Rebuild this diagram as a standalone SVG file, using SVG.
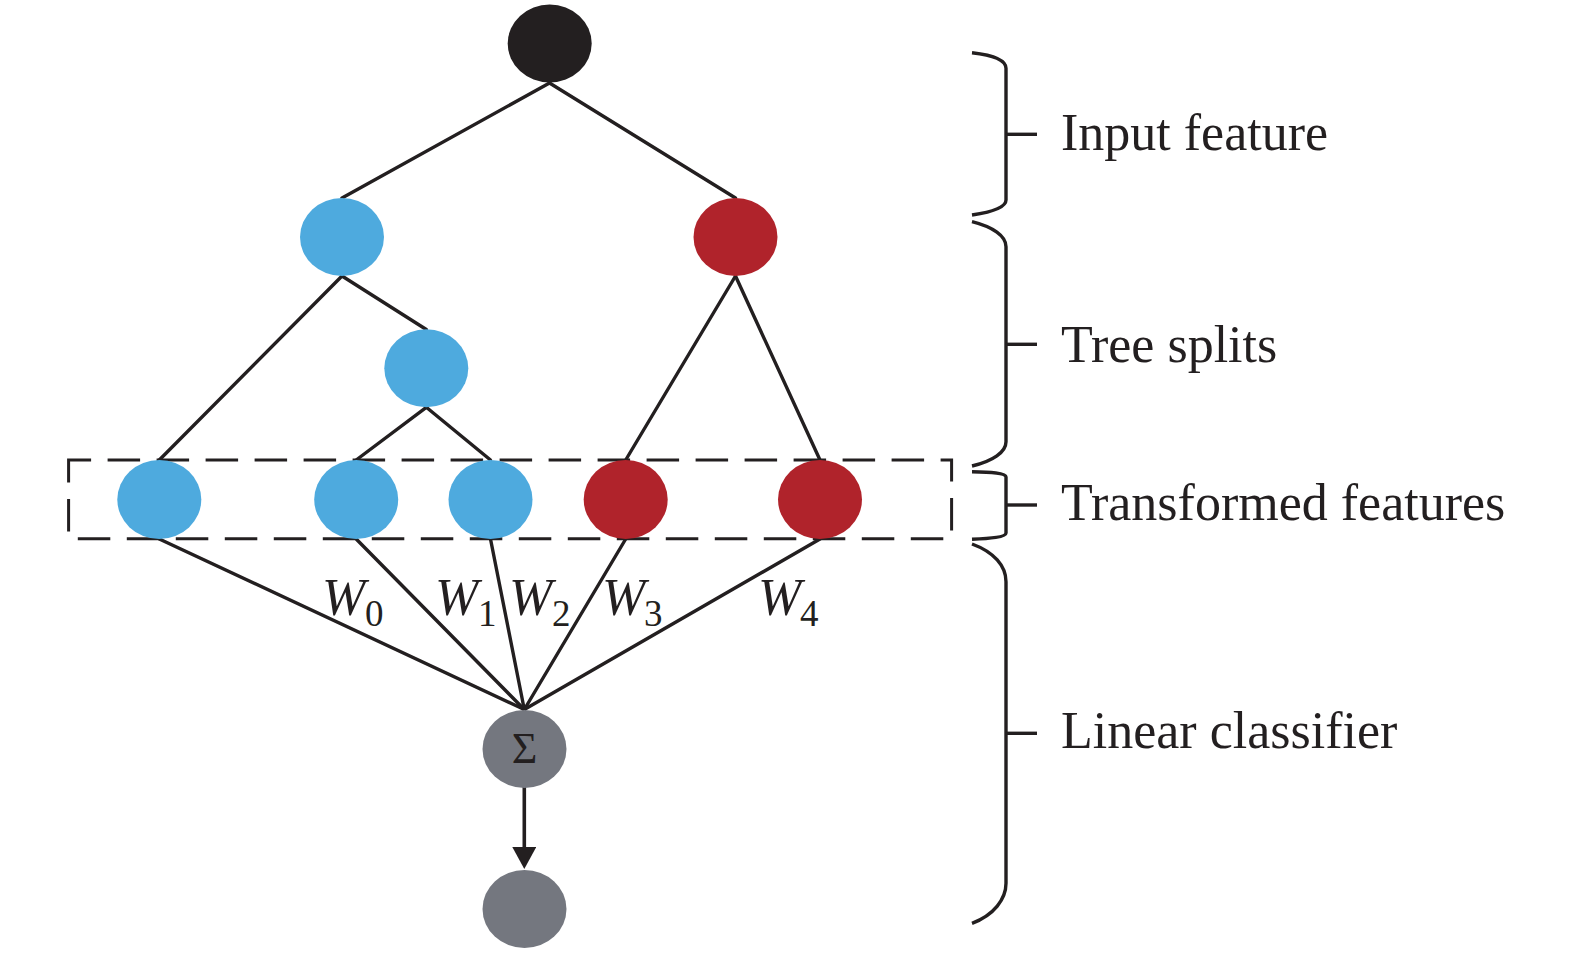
<svg xmlns="http://www.w3.org/2000/svg" width="1575" height="953" viewBox="0 0 1575 953">
<style>
.blue{fill:#4eaade}
.red{fill:#b0232b}
.black{fill:#231f20}
.gray{fill:#74777f}
.edge{stroke:#231f20;stroke-width:3.4;fill:none;stroke-linecap:round}
.brace{stroke:#231f20;stroke-width:3.4;fill:none}
.lbl{font-family:"Liberation Serif","Times New Roman",serif;font-size:52px;fill:#231f20}
.w{font-family:"Liberation Serif","Times New Roman",serif;font-size:52px;font-style:italic;fill:#231f20}
.sub{font-family:"Liberation Serif","Times New Roman",serif;font-size:37px;fill:#231f20}
</style>
<defs>
<marker id="arrow" markerUnits="userSpaceOnUse" markerWidth="24" markerHeight="24" refX="2" refY="12" orient="auto">
<path d="M0,0 L22,12 L0,24 Z" fill="#231f20"/>
</marker>
</defs>
<rect width="1575" height="953" fill="#ffffff"/>
<g id="connectors">
<line class="edge" x1="549.5" y1="83" x2="342" y2="198"/>
<line class="edge" x1="549.5" y1="83" x2="735.5" y2="198"/>
<line class="edge" x1="342" y1="276" x2="159.3" y2="460"/>
<line class="edge" x1="342" y1="276" x2="426.3" y2="329.5"/>
<line class="edge" x1="426.3" y1="407.3" x2="356.2" y2="460"/>
<line class="edge" x1="426.3" y1="407.3" x2="490.5" y2="460"/>
<line class="edge" x1="735.5" y1="276" x2="625.7" y2="460"/>
<line class="edge" x1="735.5" y1="276" x2="820" y2="460"/>
<line class="edge" x1="159.3" y1="539" x2="524.3" y2="709.5"/>
<line class="edge" x1="356.2" y1="539" x2="524.3" y2="709.5"/>
<line class="edge" x1="490.5" y1="539" x2="524.3" y2="709.5"/>
<line class="edge" x1="625.7" y1="539" x2="524.3" y2="709.5"/>
<line class="edge" x1="820" y1="539" x2="524.3" y2="709.5"/>
<line x1="524.3" y1="787" x2="524.3" y2="849" stroke="#231f20" stroke-width="3.6" marker-end="url(#arrow)"/>
</g>
<g id="node-root"><ellipse class="black" cx="549.7" cy="43.5" rx="42" ry="39"/></g>
<g id="node-l1-blue"><ellipse class="blue" cx="342" cy="237" rx="42" ry="39"/></g>
<g id="node-l1-red"><ellipse class="red" cx="735.5" cy="237" rx="42" ry="39"/></g>
<g id="node-l2-blue"><ellipse class="blue" cx="426.3" cy="368.3" rx="42" ry="39"/></g>
<g id="transformed-box"><rect x="68.6" y="460" width="883" height="78.7" fill="none" stroke="#231f20" stroke-width="3" stroke-dasharray="32.5 16.5" stroke-dashoffset="10"/></g>
<g id="leaf-0"><ellipse class="blue" cx="159.3" cy="499.5" rx="42" ry="39.5"/></g>
<g id="leaf-1"><ellipse class="blue" cx="356.2" cy="499.5" rx="42" ry="39.5"/></g>
<g id="leaf-2"><ellipse class="blue" cx="490.5" cy="499.5" rx="42" ry="39.5"/></g>
<g id="leaf-3"><ellipse class="red" cx="625.7" cy="499.5" rx="42" ry="39.5"/></g>
<g id="leaf-4"><ellipse class="red" cx="820" cy="499.5" rx="42" ry="39.5"/></g>
<g id="node-sum"><ellipse class="gray" cx="524.5" cy="749" rx="42" ry="39"/>
<text x="524.5" y="763" text-anchor="middle" font-family="Liberation Serif, Times New Roman, serif" font-size="44" fill="#231f20">Σ</text></g>
<g id="node-output"><ellipse class="gray" cx="524.5" cy="909" rx="42" ry="39"/></g>
<g id="weights">
<text class="w" x="322" y="615">W</text><text class="sub" x="365" y="626">0</text>
<text class="w" x="435" y="615">W</text><text class="sub" x="478" y="626">1</text>
<text class="w" x="509" y="615">W</text><text class="sub" x="552" y="626">2</text>
<text class="w" x="602" y="615">W</text><text class="sub" x="644" y="626">3</text>
<text class="w" x="758" y="615">W</text><text class="sub" x="800" y="626">4</text>
</g>
<g id="brace-input">
<path class="brace" d="M972,52.7 C992,55 1006,60 1006,68.3 L1006,200 C1006,207 992,212 972,215"/>
<line class="brace" x1="1006" y1="134.3" x2="1037" y2="134.3"/>
<text class="lbl" x="1061" y="150">Input feature</text>
</g>
<g id="brace-tree">
<path class="brace" d="M972,221.7 C993,227 1006,236 1006,246.7 L1006,441.7 C1006,452 993,461 972,466"/>
<line class="brace" x1="1006" y1="344.3" x2="1037" y2="344.3"/>
<text class="lbl" x="1061" y="361.7">Tree splits</text>
</g>
<g id="brace-transformed">
<path class="brace" d="M972,471.7 C990,472 1006,473 1006,477 L1006,533 C1006,537 990,538.5 972,539.3"/>
<line class="brace" x1="1006" y1="505" x2="1037" y2="505"/>
<text class="lbl" x="1061" y="520">Transformed features</text>
</g>
<g id="brace-linear">
<path class="brace" d="M972,544 C994,552 1006,566 1006,581.7 L1006,883.3 C1006,899 994,915 972,923.3"/>
<line class="brace" x1="1006" y1="733.3" x2="1037" y2="733.3"/>
<text class="lbl" x="1061" y="748.3">Linear classifier</text>
</g>
</svg>
